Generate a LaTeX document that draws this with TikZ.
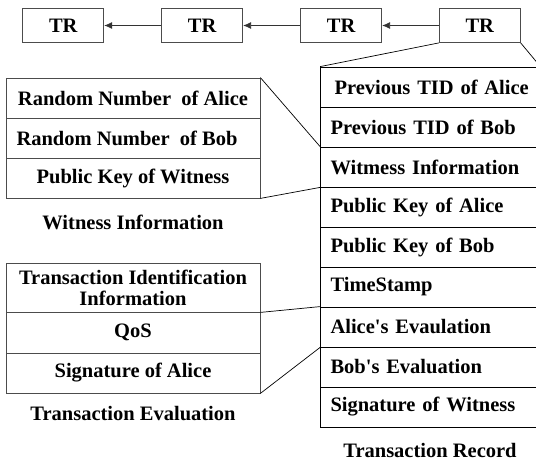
\documentclass[tikz,border=0pt]{standalone}
\usepackage{fontspec}
\setmainfont{Liberation Serif}
\usetikzlibrary{arrows.meta}
\begin{document}
\begin{tikzpicture}[x=1pt,y=-1pt,
  lbl/.style={font=\fontsize{20.5}{21}\selectfont\bfseries},
  trbox/.style={lbl,draw=black!70,line width=0.8pt,minimum width=81pt,minimum height=34pt,inner sep=0pt},
  leftrow/.style={lbl,draw=black!70,line width=0.8pt,minimum width=254pt,inner sep=0pt,align=center},
  recrow/.style={lbl,draw=black,line width=0.8pt,text width=199.5pt,inner xsep=10pt,inner ysep=0pt,minimum height=40pt,align=left},
  link/.style={black,line width=0.7pt},
  chain/.style={black!80,line width=0.8pt,-{Latex[length=8pt,width=7pt]}},
  title/.style={lbl}]
\useasboundingbox (0,0) rectangle (536,463);
\clip (0,0) rectangle (536,463);

% chain of transaction records
\node[trbox] (tr1) at (63.3,25.5) {TR};
\node[trbox] (tr2) at (202.2,25.5) {TR};
\node[trbox] (tr3) at (341.2,25.5) {TR};
\node[trbox] (tr4) at (479.8,25.5) {TR};
\draw[chain] (tr2) -- (tr1);
\draw[chain] (tr3) -- (tr2);
\draw[chain] (tr4) -- (tr3);

% fields of one transaction record
\node[recrow] (r1) at (430.25,87)  {\hspace*{4pt}Previous TID of Alice};
\node[recrow] (r2) at (430.25,127) {Previous TID of Bob};
\node[recrow] (r3) at (430.25,167) {Witmess Information};
\node[recrow] (r4) at (430.25,207) {Public Key of Alice};
\node[recrow] (r5) at (430.25,247) {Public Key of Bob};
\node[recrow] (r6) at (430.25,287) {TimeStamp};
\node[recrow] (r7) at (430.25,327) {Alice\textquotesingle s Evaulation};
\node[recrow] (r8) at (430.25,367) {Bob\textquotesingle s Evaluation};
\node[recrow] (r9) at (430.25,407) {Signature of Witness};
\node[title] (trec) at (430,450) {Transaction Record};

% witness information
\node[leftrow,minimum height=40pt] (w1) at (133,98)  {Random Number\ \ of Alice};
\node[leftrow,minimum height=40pt] (w2) at (133,138) {\hspace*{-12pt}Random Number\ \ of Bob};
\node[leftrow,minimum height=40pt] (w3) at (133,178) {Public Key of Witness};
\node[title] (wt) at (133,222) {Witness Information};

% transaction evaluation
\node[leftrow,minimum height=49pt] (e1) at (133,287.5) {Transaction Identification\\Information};
\node[leftrow,minimum height=41pt] (e2) at (133,332.5) {QoS};
\node[leftrow,minimum height=40pt] (e3) at (133,373) {Signature of Alice};
\node[title] (et) at (133,414) {Transaction Evaluation};

% zoom-out connectors
\draw[link] (tr4.south west) -- (r1.north west);
\draw[link] (tr4.south east) -- (r1.north east);
\draw[link] (w1.north east) -- (r3.north west);
\draw[link] (w3.south east) -- (r3.south west);
\draw[link] (e1.south east) -- (r7.north west);
\draw[link] (e3.south east) -- (r7.south west);
\end{tikzpicture}
\end{document}
